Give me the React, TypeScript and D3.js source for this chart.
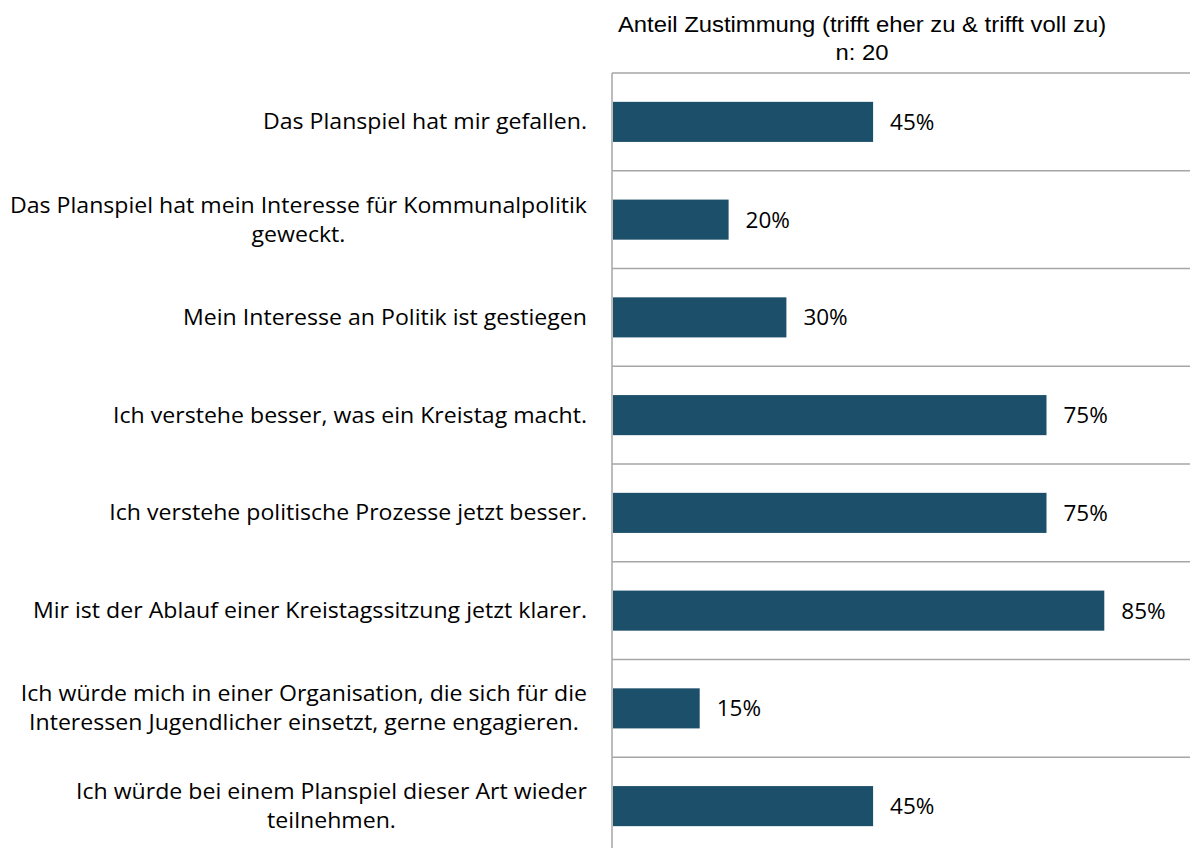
import React, { useEffect, useRef } from "react";
import * as d3 from "d3";

const categories: string[][] = [
  ["Das Planspiel hat mir gefallen."],
  ["Das Planspiel hat mein Interesse für Kommunalpolitik", "geweckt."],
  ["Mein Interesse an Politik ist gestiegen"],
  ["Ich verstehe besser, was ein Kreistag macht."],
  ["Ich verstehe politische Prozesse jetzt besser."],
  ["Mir ist der Ablauf einer Kreistagssitzung jetzt klarer."],
  ["Ich würde mich in einer Organisation, die sich für die", "Interessen Jugendlicher einsetzt, gerne engagieren."],
  ["Ich würde bei einem Planspiel dieser Art wieder", "teilnehmen."],
];
const values: number[] = [45, 20, 30, 75, 75, 85, 15, 45];
const titleLines: string[] = ["Anteil Zustimmung (trifft eher zu & trifft voll zu)", "n: 20"];

const W = 1190;
const H = 848;

export default function App() {
  const ref = useRef<SVGSVGElement | null>(null);
  useEffect(() => {
    const svg = d3.select(ref.current);
    svg.selectAll("*").remove();
    const x = d3.scaleLinear().domain([0, 100]).range([613, 1191]);
    const ids = categories.map((_, i) => String(i));
    const y = d3.scaleBand().domain(ids).range([73, 855]).paddingInner(0.59).paddingOuter(0.295);
    const step = y.step();
    const labelFont = "'Open Sans', 'Noto Sans', sans-serif";

    // title
    const titleG = svg.append("g");
    titleLines.forEach((l, i) => {
      const t = titleG.append("text")
        .attr("x", 862).attr("y", 32 + i * 28)
        .attr("text-anchor", "middle")
        .attr("font-family", "'Liberation Sans', Arial, sans-serif")
        .attr("font-size", 22.5).attr("fill", "#000")
        .text(l);
      const w = (t.node() as SVGTextElement).getComputedTextLength();
      t.attr("textLength", w * 1.06).attr("lengthAdjust", "spacingAndGlyphs");
    });

    // gridlines (band boundaries)
    const bounds = d3.range(categories.length + 1).map(i => 73 + i * step);
    svg.append("g").selectAll("line").data(bounds).join("line")
      .attr("x1", 612).attr("x2", W).attr("y1", d => d).attr("y2", d => d)
      .attr("stroke", "#a6a6a6").attr("stroke-width", 1.5);

    // bars
    svg.append("g").selectAll("rect").data(values).join("rect")
      .attr("x", x(0)).attr("y", (_, i) => y(ids[i])!)
      .attr("width", d => x(d) - x(0)).attr("height", y.bandwidth())
      .attr("fill", "#1b4f6a");

    // axis line
    svg.append("line").attr("x1", 612).attr("x2", 612).attr("y1", 73).attr("y2", H)
      .attr("stroke", "#a6a6a6").attr("stroke-width", 1.5);

    // value labels
    svg.append("g").selectAll("text").data(values).join("text")
      .attr("x", d => x(d) + 17).attr("y", (_, i) => y(ids[i])! + y.bandwidth() / 2)
      .attr("dy", "0.36em")
      .attr("font-family", labelFont).attr("font-size", 22.5).attr("fill", "#000")
      .text(d => `${d}%`);

    // category labels
    const lh = 29;
    const g = svg.append("g");
    const stretch = 1.1;
    categories.forEach((lines, i) => {
      const cy = y(ids[i])! + y.bandwidth() / 2;
      const texts = lines.map((l, j) =>
        g.append("text")
          .attr("font-family", labelFont).attr("font-size", 21).attr("fill", "#000")
          .attr("text-anchor", "middle")
          .attr("y", cy + (j - (lines.length - 1) / 2) * lh).attr("dy", "0.36em")
          .text(l)
      );
      const widths = texts.map(t => (t.node() as SVGTextElement).getComputedTextLength() * stretch);
      const maxW = Math.max(...widths);
      const cx = 587 - maxW / 2;
      texts.forEach((t, j) => t.attr("x", cx).attr("textLength", widths[j]).attr("lengthAdjust", "spacingAndGlyphs"));
    });
  }, []);
  return (
    <svg ref={ref} width={W} height={H} style={{ display: "block", position: "absolute", left: 0, top: 0 }} />
  );
}
